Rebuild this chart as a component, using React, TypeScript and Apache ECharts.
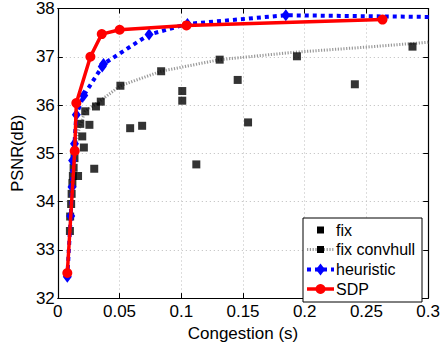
import React, { useEffect, useRef } from "react";
import * as echarts from "echarts";

const fixX = [0.0098, 0.0100, 0.0108, 0.0112, 0.0118, 0.0122, 0.0128, 0.0135, 0.0164, 0.0182, 0.0198, 0.0211, 0.0222, 0.0256, 0.0295, 0.0309, 0.0348, 0.0507, 0.0586, 0.0683, 0.0837, 0.1008, 0.1008, 0.1122, 0.1311, 0.1457, 0.1541, 0.1937, 0.2406, 0.2873];
const fixY = [33.39, 33.69, 33.95, 34.16, 34.38, 34.53, 34.7, 34.9, 34.53, 35.61, 35.35, 35.12, 35.87, 35.59, 34.68, 35.97, 36.07, 36.40, 35.52, 35.57, 36.70, 36.29, 36.09, 34.77, 36.94, 36.52, 35.64, 37.01, 36.43, 37.21];

const hullX = [0.0098, 0.0115, 0.0135, 0.016, 0.022, 0.035, 0.0507, 0.0837, 0.1311, 0.19, 0.25, 0.3];
const hullY = [33.39, 34.2, 34.85, 35.4, 35.87, 36.1, 36.40, 36.70, 36.94, 37.09, 37.2, 37.3];

const heurX = [0.0077, 0.0105, 0.0115, 0.012, 0.0135, 0.015, 0.021, 0.036, 0.037, 0.0739, 0.105, 0.1847, 0.35];
const heurY = [32.44, 33.7, 34.3, 34.85, 35.2, 35.8, 36.2, 36.8, 36.85, 37.46, 37.68, 37.86, 37.81];

const sdpX = [0.0077, 0.0137, 0.015, 0.0264, 0.0356, 0.0501, 0.1042, 0.263];
const sdpY = [32.52, 35.05, 36.04, 37.0, 37.47, 37.56, 37.65, 37.77];

const xTicks = ["0", "0.05", "0.1", "0.15", "0.2", "0.25", "0.3"];
const legendNames = ["fix", "fix convhull", "heuristic", "SDP"];

const FONT = "Liberation Sans";

export default function App() {
  const ref = useRef<HTMLDivElement>(null);
  useEffect(() => {
    const chart = echarts.init(ref.current!, null, { renderer: "svg" });
    const pair = (xs: number[], ys: number[]) => xs.map((x, i) => [x, ys[i]]);
    const gridLine = { show: true, lineStyle: { color: "#bbb", type: [1, 3] as any, width: 1 } };

    // manual legend (MATLAB style)
    const lx = 303, ly = 218, lw = 119, lh = 84;
    const rowY = [230, 249.5, 269.5, 289];
    const x1 = 307, x2 = 334, xm = 320.5, tx = 336;
    const lg: any[] = [
      { type: "rect", shape: { x: lx, y: ly, width: lw, height: lh }, style: { fill: "#fff", stroke: "#000", lineWidth: 1 }, z: 10 },
      { type: "rect", shape: { x: xm - 3.5, y: rowY[0] - 3.5, width: 7, height: 7 }, style: { fill: "#000" }, z: 11 },
      { type: "line", shape: { x1, y1: rowY[1], x2, y2: rowY[1] }, style: { stroke: "#999", lineWidth: 3, lineDash: [1.2, 1.6] }, z: 11 },
      { type: "rect", shape: { x: xm - 3.5, y: rowY[1] - 3.5, width: 7, height: 7 }, style: { fill: "#000" }, z: 12 },
      { type: "line", shape: { x1, y1: rowY[2], x2, y2: rowY[2] }, style: { stroke: "#0000ff", lineWidth: 4, lineDash: [4, 4] }, z: 11 },
      { type: "polygon", shape: { points: [[xm, rowY[2] - 6], [xm + 4.5, rowY[2]], [xm, rowY[2] + 6], [xm - 4.5, rowY[2]]] }, style: { fill: "#0000ff" }, z: 12 },
      { type: "line", shape: { x1, y1: rowY[3], x2, y2: rowY[3] }, style: { stroke: "#ff0000", lineWidth: 3.5 }, z: 11 },
      { type: "circle", shape: { cx: xm, cy: rowY[3], r: 5 }, style: { fill: "#ff0000" }, z: 12 },
    ];
    const titles = legendNames.map((n, i) => ({
      text: n, left: tx, top: rowY[i] - 10, padding: 0, z: 20,
      textStyle: { fontSize: 16, fontWeight: "normal", fontFamily: FONT, color: "#000", lineHeight: 20 },
    }));

    chart.setOption({
      animation: false,
      backgroundColor: "#fff",
      textStyle: { fontFamily: FONT },
      grid: { left: 51, right: 13, top: 8, bottom: 40 },
      graphic: lg,
      title: titles,
      xAxis: [
        {
          type: "value", min: 0, max: 0.3, interval: 0.05,
          name: "Congestion (s)", nameLocation: "middle", nameGap: 21,
          nameTextStyle: { fontSize: 17, color: "#000", fontFamily: FONT },
          axisLine: { show: true, onZero: false, lineStyle: { color: "#000", width: 1.2 } },
          axisTick: { show: true, inside: true, length: 5, lineStyle: { color: "#000" } },
          axisLabel: { fontSize: 17, color: "#000", margin: 5, fontFamily: FONT, formatter: (v: number) => xTicks[Math.round(v / 0.05)] ?? "" },
          splitLine: gridLine,
        },
        {
          type: "value", min: 0, max: 0.3, interval: 0.05, position: "top",
          axisLine: { show: true, onZero: false, lineStyle: { color: "#000", width: 1.2 } },
          axisTick: { show: true, inside: true, length: 5, lineStyle: { color: "#000" } },
          axisLabel: { show: false }, splitLine: { show: false },
        },
      ],
      yAxis: [
        {
          type: "value", min: 32, max: 38, interval: 1,
          name: "PSNR(dB)", nameLocation: "middle", nameGap: 28,
          nameTextStyle: { fontSize: 16.5, color: "#000", fontFamily: FONT },
          axisLine: { show: true, onZero: false, lineStyle: { color: "#000", width: 1.2 } },
          axisTick: { show: true, inside: true, length: 5, lineStyle: { color: "#000" } },
          axisLabel: { fontSize: 17, color: "#000", margin: 3, fontFamily: FONT },
          splitLine: gridLine,
        },
        {
          type: "value", min: 32, max: 38, interval: 1, position: "right",
          axisLine: { show: true, onZero: false, lineStyle: { color: "#000", width: 1.2 } },
          axisTick: { show: true, inside: true, length: 5, lineStyle: { color: "#000" } },
          axisLabel: { show: false }, splitLine: { show: false },
        },
      ],
      series: [
        {
          name: "fix convhull", type: "line", data: pair(hullX, hullY),
          symbol: "none",
          lineStyle: { color: "#999", width: 3, type: [1.2, 1.6] as any },
          clip: true, z: 2,
        },
        {
          name: "fix", type: "scatter", data: pair(fixX, fixY),
          symbol: "rect", symbolSize: 8, itemStyle: { color: "#000" }, z: 3,
        },
        {
          name: "heuristic", type: "line", data: pair(heurX, heurY),
          symbol: "diamond", symbolSize: [9, 12], itemStyle: { color: "#0000ff" },
          lineStyle: { color: "#0000ff", width: 4, type: [4, 4] as any },
          clip: true, z: 4,
        },
        {
          name: "SDP", type: "line", data: pair(sdpX, sdpY),
          symbol: "circle", symbolSize: 10, itemStyle: { color: "#ff0000" },
          lineStyle: { color: "#ff0000", width: 3.5 },
          clip: true, z: 5,
        },
      ],
    });
    return () => chart.dispose();
  }, []);
  return <div ref={ref} style={{ width: 443, height: 347, position: "absolute", left: 0, top: 0 }} />;
}
